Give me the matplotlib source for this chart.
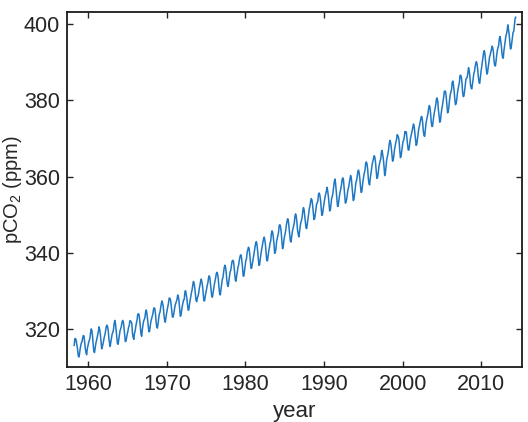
import matplotlib
matplotlib.use("Agg")
import matplotlib.pyplot as plt
import numpy as np

# Mauna Loa monthly mean CO2 (ppm), March 1958 - May 2014
start_year = 1958
start_month = 3
co2_ppm = [
    315.71, 317.45, 317.50, 317.10, 315.86, 314.93, 313.20, 312.66, 313.33, 314.67,
    315.62, 316.38, 316.71, 317.72, 318.29, 318.15, 316.54, 314.80, 313.84, 313.26, 314.80, 315.58,
    316.43, 316.97, 317.58, 319.02, 320.03, 319.59, 318.18, 315.91, 314.16, 313.83, 315.00, 316.19,
    316.93, 317.70, 318.54, 319.48, 320.58, 319.77, 318.57, 316.79, 314.80, 315.38, 316.10, 317.01,
    317.94, 318.56, 319.68, 320.63, 321.01, 320.55, 319.58, 317.40, 316.26, 315.42, 316.69, 317.69,
    318.74, 319.08, 319.86, 321.39, 322.25, 321.47, 319.74, 317.77, 316.21, 315.99, 317.12, 318.31,
    319.57, 320.07, 320.73, 321.77, 322.25, 321.89, 320.44, 318.70, 316.70, 316.79, 317.79, 318.71,
    319.44, 320.44, 320.89, 322.13, 322.16, 321.87, 321.39, 318.81, 317.81, 317.30, 318.87, 319.42,
    320.62, 321.59, 322.39, 323.87, 324.01, 323.75, 322.39, 320.37, 318.64, 318.10, 319.79, 321.08,
    322.07, 322.50, 323.04, 324.42, 325.00, 324.09, 322.55, 320.92, 319.31, 319.31, 320.72, 321.96,
    322.57, 323.15, 323.89, 325.02, 325.57, 325.36, 324.14, 322.03, 320.41, 320.25, 321.31, 322.84,
    324.00, 324.42, 325.64, 326.66, 327.38, 326.70, 325.89, 323.67, 322.38, 321.78, 322.85, 324.11,
    325.03, 325.99, 326.87, 328.13, 328.07, 327.66, 326.35, 324.69, 323.10, 323.16, 323.98, 325.13,
    326.17, 326.68, 327.18, 327.78, 328.92, 328.57, 327.34, 325.46, 323.36, 323.57, 324.80, 326.01,
    326.77, 327.63, 327.75, 329.72, 330.07, 329.09, 328.05, 326.32, 324.93, 325.06, 326.50, 327.55,
    328.54, 329.56, 330.30, 331.50, 332.48, 332.07, 330.87, 329.31, 327.51, 327.18, 328.16, 328.64,
    329.35, 330.71, 331.48, 332.65, 333.09, 332.25, 331.18, 329.40, 327.43, 327.37, 328.46, 329.57,
    330.40, 331.40, 332.04, 333.31, 333.96, 333.59, 331.91, 330.06, 328.56, 328.34, 329.49, 330.76,
    331.75, 332.56, 333.50, 334.58, 334.87, 334.34, 333.05, 330.94, 329.30, 328.94, 330.31, 331.68,
    332.93, 333.42, 334.70, 336.07, 336.74, 336.27, 334.93, 332.75, 331.58, 331.16, 332.40, 333.85,
    334.97, 335.39, 336.64, 337.76, 338.01, 337.89, 336.54, 334.68, 332.76, 332.54, 333.92, 334.95,
    336.23, 336.76, 337.96, 338.89, 339.47, 339.29, 337.73, 336.09, 333.91, 333.86, 335.29, 336.73,
    338.01, 338.36, 340.08, 340.77, 341.46, 341.17, 339.56, 337.60, 335.88, 336.01, 337.10, 338.21,
    339.24, 340.48, 341.38, 342.51, 342.91, 342.25, 340.49, 338.43, 336.69, 336.85, 338.36, 339.61,
    340.75, 341.61, 342.70, 343.56, 344.13, 343.35, 342.06, 339.82, 337.97, 337.86, 339.26, 340.49,
    341.38, 342.52, 343.10, 344.94, 345.75, 345.32, 343.99, 342.39, 339.86, 339.99, 341.16, 342.99,
    343.82, 344.63, 345.38, 347.19, 347.36, 346.79, 345.40, 343.28, 341.07, 341.35, 342.98, 344.22,
    344.97, 345.99, 347.42, 348.35, 348.93, 348.25, 346.56, 344.67, 343.09, 342.80, 344.24, 345.56,
    346.30, 346.95, 347.85, 349.55, 350.21, 349.55, 347.94, 345.91, 344.86, 344.17, 345.66, 346.90,
    348.02, 348.47, 349.42, 350.99, 351.84, 351.25, 349.52, 348.10, 346.44, 346.36, 347.81, 348.96,
    350.43, 351.72, 352.22, 353.59, 354.22, 353.79, 352.39, 350.44, 348.72, 348.88, 350.07, 351.34,
    352.76, 353.07, 353.68, 355.42, 355.67, 355.13, 353.90, 351.67, 349.80, 349.99, 351.30, 352.53,
    353.66, 354.70, 355.39, 356.20, 357.16, 356.22, 354.82, 352.91, 350.96, 351.18, 352.83, 354.21,
    354.72, 355.75, 357.16, 358.60, 359.34, 358.24, 356.17, 354.03, 352.16, 352.21, 353.75, 354.99,
    355.99, 356.72, 357.81, 359.15, 359.66, 359.25, 357.03, 355.00, 353.01, 353.31, 354.16, 355.40,
    356.70, 357.16, 358.38, 359.46, 360.28, 359.60, 357.57, 355.52, 353.70, 353.98, 355.33, 356.80,
    358.36, 358.91, 359.97, 361.26, 361.69, 360.94, 359.55, 357.49, 355.84, 356.00, 357.59, 359.05,
    359.98, 361.03, 361.66, 363.48, 363.82, 363.30, 361.94, 359.50, 358.11, 357.80, 359.61, 360.74,
    362.09, 363.29, 364.06, 364.76, 365.45, 365.01, 363.70, 361.54, 359.51, 359.65, 360.80, 362.38,
    363.23, 364.06, 364.61, 366.40, 366.84, 365.68, 364.52, 362.57, 360.24, 360.83, 362.49, 364.34,
    365.16, 365.98, 367.13, 368.61, 369.49, 368.95, 367.74, 365.79, 364.01, 364.35, 365.52, 367.10,
    368.12, 368.98, 369.60, 370.96, 370.77, 370.33, 369.28, 366.86, 364.94, 365.35, 366.68, 368.04,
    369.25, 369.50, 370.56, 371.82, 371.51, 371.71, 369.85, 368.20, 366.91, 366.99, 368.33, 369.67,
    370.52, 371.33, 372.19, 372.94, 373.77, 373.14, 371.51, 369.61, 368.18, 368.45, 369.76, 371.24,
    372.53, 373.20, 374.12, 375.02, 375.76, 375.52, 374.01, 371.85, 370.75, 370.55, 372.25, 373.79,
    374.88, 375.64, 376.45, 377.73, 378.60, 378.28, 376.70, 374.38, 373.17, 373.14, 374.66, 375.99,
    377.00, 377.87, 378.88, 380.35, 380.62, 379.69, 377.47, 376.01, 374.25, 374.46, 376.16, 377.51,
    378.46, 379.73, 380.77, 382.29, 382.45, 382.21, 380.74, 378.74, 376.70, 377.00, 378.35, 380.11,
    381.38, 382.19, 382.67, 384.61, 385.03, 384.05, 382.46, 380.41, 378.85, 379.13, 380.15, 381.82,
    382.89, 383.90, 384.58, 386.50, 386.56, 386.10, 384.50, 381.99, 380.96, 381.12, 382.45, 383.95,
    385.52, 385.82, 386.03, 387.21, 388.54, 387.76, 386.36, 384.09, 383.18, 382.99, 384.19, 385.56,
    386.94, 387.48, 388.82, 389.55, 390.14, 389.48, 388.03, 386.11, 384.74, 384.43, 386.02, 387.42,
    388.71, 390.20, 391.17, 392.46, 393.00, 392.15, 390.20, 388.35, 386.85, 387.24, 388.67, 389.79,
    391.33, 391.86, 392.60, 393.25, 394.19, 393.74, 392.51, 390.13, 389.08, 389.00, 390.28, 391.86,
    393.12, 393.86, 394.40, 396.18, 396.74, 395.71, 394.36, 392.39, 391.11, 391.05, 392.98, 394.34,
    395.55, 396.80, 397.43, 398.41, 399.78, 398.61, 397.32, 395.20, 393.45, 393.70, 395.16, 396.84,
    397.85, 398.01, 399.77, 401.38, 401.78,
]
x_ticks = [1960, 1970, 1980, 1990, 2000, 2010]
y_ticks = [320, 340, 360, 380, 400]

plt.rcParams['font.family'] = ['Liberation Sans', 'DejaVu Sans']
plt.rcParams['mathtext.fontset'] = 'custom'
plt.rcParams['mathtext.rm'] = 'Liberation Sans'
plt.rcParams['mathtext.it'] = 'Liberation Sans'

months = np.arange(len(co2_ppm))
year = start_year + (start_month - 1 + months + 0.5) / 12.0

txt = '#262626'
fig = plt.figure(figsize=(5.28, 4.22), dpi=100)
ax = fig.add_axes([0.127, 0.130, 0.862, 0.842])
ax.plot(year, co2_ppm, color='#1f78c4', lw=1.1)

ax.set_xlim(1957.3, 2015.2)
ax.set_ylim(310, 403.2)
ax.set_xticks(x_ticks)
ax.set_yticks(y_ticks)
ax.tick_params(direction='in', top=True, right=True, length=4, width=1,
               labelsize=15.5, colors=txt, pad=5)
for s in ax.spines.values():
    s.set_linewidth(1.3)
    s.set_color('#1a1a1a')

ax.set_xlabel('year', fontsize=16, color=txt, labelpad=4)
ax.set_ylabel('pCO$_2$ (ppm)', fontsize=14.5, color=txt)
ax.yaxis.set_label_coords(-0.095, 0.5)

fig.savefig('out.png', dpi=100)
